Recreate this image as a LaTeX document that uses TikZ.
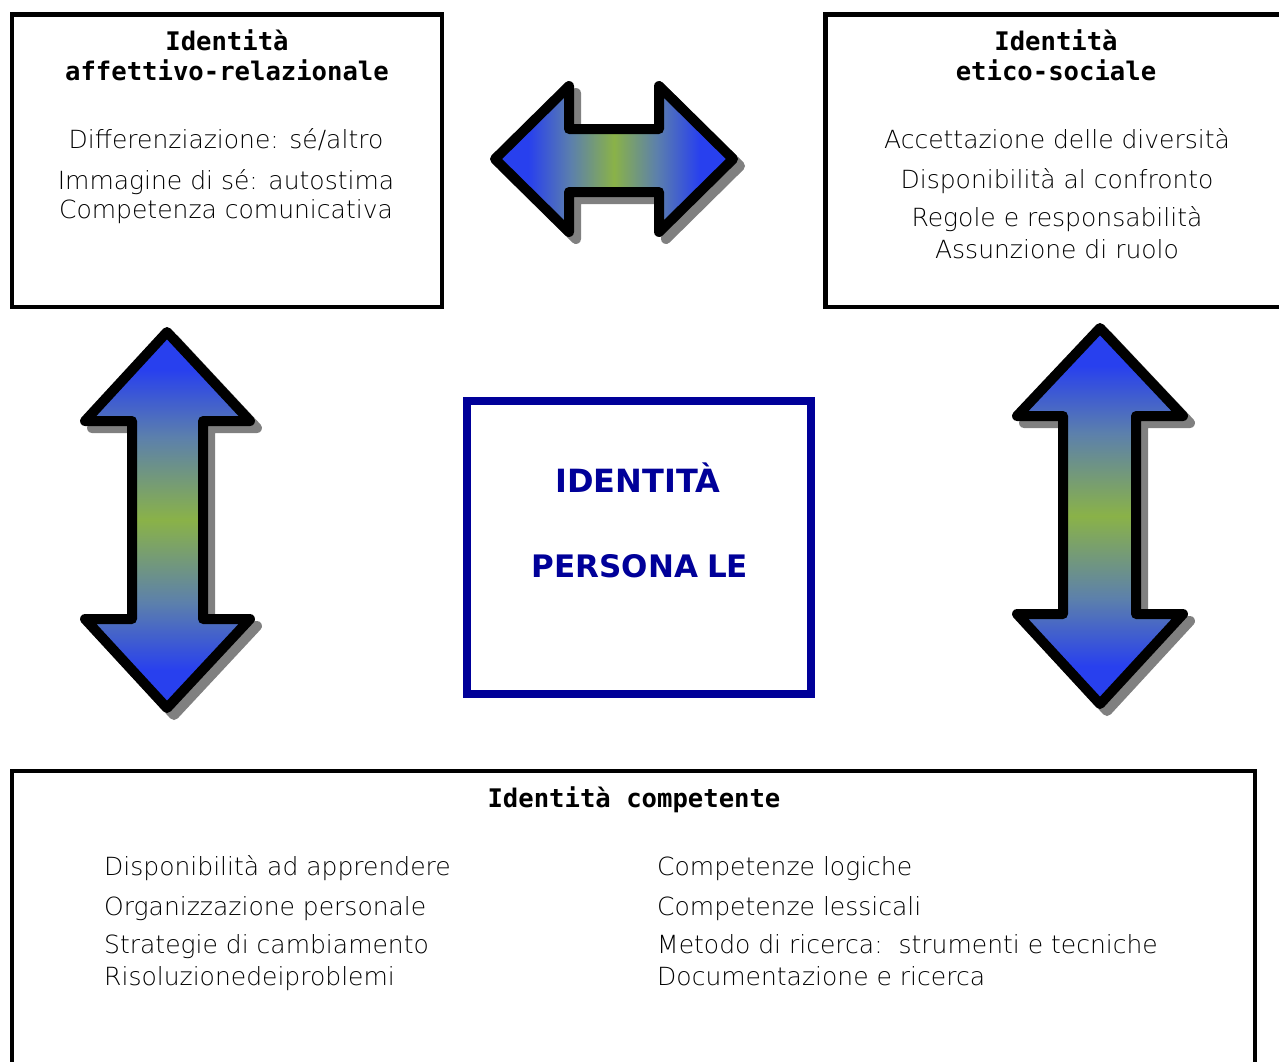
\documentclass[tikz,border=0pt]{standalone}
\usepackage{fontspec}
\setmainfont{DejaVu Sans ExtraLight}
\newfontfamily\titlefont{DejaVu Sans Mono}
\newfontfamily\idfont{DejaVu Sans}
\definecolor{arrblue}{RGB}{40,64,238}
\definecolor{arrteal}{RGB}{92,128,172}
\definecolor{arrgreen}{RGB}{138,178,72}
\definecolor{idblue}{RGB}{0,0,153}
\definecolor{shadowgray}{RGB}{128,128,128}
\pgfdeclarehorizontalshading{hsh}{100bp}{color(0bp)=(arrblue); color(25bp)=(arrblue); color(32bp)=(arrblue); color(41bp)=(arrteal); color(50bp)=(arrgreen); color(59bp)=(arrteal); color(68bp)=(arrblue); color(75bp)=(arrblue); color(100bp)=(arrblue)}
\pgfdeclareverticalshading{vsh}{100bp}{color(0bp)=(arrblue); color(25bp)=(arrblue); color(30bp)=(arrblue); color(39bp)=(arrteal); color(50bp)=(arrgreen); color(61bp)=(arrteal); color(70bp)=(arrblue); color(75bp)=(arrblue); color(100bp)=(arrblue)}
\tikzset{
  box/.style={draw=black, line width=4.5pt, fill=white},
  centrebox/.style={draw=idblue, line width=8pt, fill=white},
  ttl/.style={anchor=base, inner sep=0pt, font=\titlefont\bfseries\fontsize{25.6}{30}\selectfont},
  body/.style={anchor=base, inner sep=0pt, font=\fontsize{25}{30}\selectfont},
  bodyl/.style={body, anchor=base west},
  idtext/.style={anchor=base, inner sep=0pt, text=idblue, font=\idfont\bfseries\fontsize{32}{38}\selectfont},
  arrowline/.style={draw=black, line width=10pt, line join=round},
  arrowshadow/.style={fill=shadowgray, draw=shadowgray, line width=10pt, line join=round},
  hshade/.style={shading=hsh},
  vshade/.style={shading=vsh},
}
\begin{document}
\begin{tikzpicture}[x=1pt,y=-1pt]
\useasboundingbox (0,0) rectangle (1279,1061);
\clip (0,0) rectangle (1279,1061);
\fill[white] (0,0) rectangle (1279,1061);

% boxes
\node[box, minimum width=430pt, minimum height=292.5pt, inner sep=0pt] (aff) at (227,160.75) {};
\node[box, minimum width=460pt, minimum height=292.5pt, inner sep=0pt] (etico) at (1055.5,160.75) {};
\node[box, minimum width=1243pt, minimum height=330pt, inner sep=0pt] (comp) at (633.5,936) {};
\node[centrebox, minimum width=344pt, minimum height=293pt, inner sep=0pt] (pers) at (639,547.5) {};

% top-left texts
\node[ttl] (affT1) at (227,50) {Identità};
\node[ttl] (affT2) at (227,80) {affettivo-relazionale};
\node[body] (aff1) at (226,148) {Differenziazione: sé/altro};
\node[body] (aff2) at (226,189) {Immagine di sé: autostima};
\node[body] (aff3) at (226,218) {Competenza comunicativa};

% top-right texts
\node[ttl] (etT1) at (1056,50) {Identità};
\node[ttl] (etT2) at (1056,80) {etico-sociale};
\node[body] (et1) at (1057,148) {Accettazione delle diversità};
\node[body] (et2) at (1057,188) {Disponibilità al confronto};
\node[body] (et3) at (1057,226) {Regole e responsabilità};
\node[body] (et4) at (1057,258) {Assunzione di ruolo};

% centre
\node[idtext] (pers1) at (638,492) {IDENTITÀ};
\node[idtext, font=\idfont\bfseries\fontsize{31}{38}\selectfont] (pers2) at (640,577) {PERSONA\hspace{9pt}LE};

% bottom texts
\node[ttl] (compT) at (634,807) {Identità competente};
\node[bodyl] (c1) at (104,875) {Disponibilità ad apprendere};
\node[bodyl] (c2) at (104,915) {Organizzazione personale};
\node[bodyl] (c3) at (104,953) {Strategie di cambiamento};
\node[bodyl] (c4) at (104,985) {Risoluzionedeiproblemi};
\node[bodyl] (d1) at (657,875) {Competenze logiche};
\node[bodyl] (d2) at (657,915) {Competenze lessicali};
\node[bodyl] (d3) at (657,953) {Metodo di ricerca:\ \ strumenti e tecniche};
\node[bodyl] (d4) at (657,985) {Documentazione e ricerca};

% horizontal double arrow
\def\harrow{(495,159) -- (569,86) -- (569,129) -- (659,129) -- (659,86) -- (733,159) -- (659,232) -- (659,192) -- (569,192) -- (569,232) -- cycle}
\begin{scope}[shift={(7,7)}]
  \path[arrowshadow] \harrow;
\end{scope}
\path[hshade] \harrow;
\path[arrowline] \harrow;

% left vertical double arrow
\def\larrow{(167,332) -- (250,421) -- (203,421) -- (203,619) -- (250,619) -- (167,708) -- (85,619) -- (132,619) -- (132,421) -- (85,421) -- cycle}
\begin{scope}[shift={(7,7)}]
  \path[arrowshadow] \larrow;
\end{scope}
\path[vshade] \larrow;
\path[arrowline] \larrow;

% right vertical double arrow
\def\rarrow{(1100,328) -- (1183,416) -- (1136,416) -- (1136,614) -- (1183,614) -- (1100,704) -- (1017,614) -- (1063,614) -- (1063,416) -- (1017,416) -- cycle}
\begin{scope}[shift={(7,7)}]
  \path[arrowshadow] \rarrow;
\end{scope}
\path[vshade] \rarrow;
\path[arrowline] \rarrow;
\end{tikzpicture}
\end{document}
